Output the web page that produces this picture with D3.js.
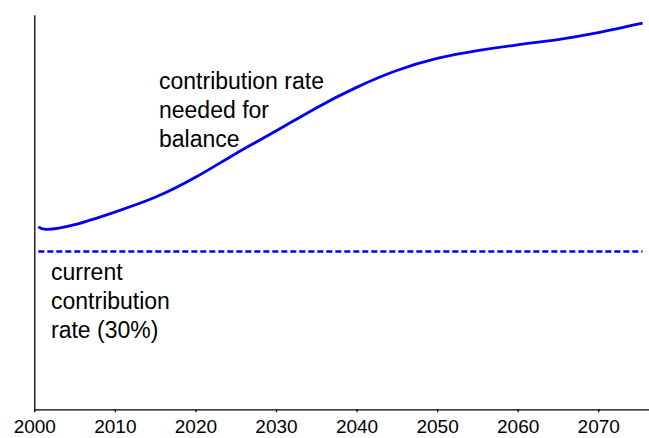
<!DOCTYPE html>
<html>
<head>
<meta charset="utf-8">
<script src="https://cdn.jsdelivr.net/npm/d3@7"></script>
<style>
  body { margin: 0; background: #fff; }
  svg text { font-family: "Liberation Sans", Arial, sans-serif; fill: #000; }
</style>
</head>
<body>
<div id="chart"></div>
<script>
// chart data
const years = [2000.5, 2001.6, 2005, 2010, 2015, 2020, 2025, 2030, 2035, 2040, 2045, 2050, 2055, 2060, 2065, 2070, 2075.5];
const neededRate = [34.7, 34.2, 35.1, 37.5, 40.3, 44.1, 48.6, 52.9, 57.3, 61.2, 64.4, 66.7, 68.2, 69.3, 70.3, 71.6, 73.4];
const currentRate = 30;
const tickYears = [2000, 2010, 2020, 2030, 2040, 2050, 2060, 2070];
const upperLabel = ["contribution rate", "needed for", "balance"];
const lowerLabel = ["current", "contribution", "rate (30%)"];

const width = 649, height = 438;

let x = d3.scaleLinear().domain([2000, 2076.3]).range([34.3, 649]);
let y = d3.scaleLinear().domain([0, 75]).range([409.3, 14.8]);

let svg = d3.select("#chart")
  .append("svg")
  .attr("width", width)
  .attr("height", height);

// x axis
let xAxis = svg.append("g")
  .attr("transform", `translate(0, ${y(0)})`)
  .call(d3.axisBottom(x).tickValues(tickYears).tickFormat(d3.format("d")).tickSize(3).tickSizeOuter(0).tickPadding(7.7));
xAxis.selectAll("text").style("font-size", "19px");
xAxis.selectAll("line, path").attr("stroke", "#000").attr("stroke-width", 1.3);

// y axis, no ticks
let yAxis = svg.append("g")
  .attr("transform", `translate(${x(2000)}, 0)`)
  .call(d3.axisLeft(y).tickValues([]).tickSizeOuter(0));
yAxis.selectAll("path").attr("stroke", "#000").attr("stroke-width", 1.3);

// current rate (dashed)
svg.append("line")
  .attr("x1", x(years[0]))
  .attr("x2", x(years[years.length - 1]))
  .attr("y1", y(currentRate))
  .attr("y2", y(currentRate))
  .attr("stroke", "#0000f0")
  .attr("stroke-width", 2.6)
  .attr("stroke-dasharray", "6,3");

// needed rate
let line = d3.line()
  .x((d, i) => x(years[i]))
  .y(d => y(d))
  .curve(d3.curveNatural);

svg.append("path")
  .datum(neededRate)
  .attr("fill", "none")
  .attr("stroke", "#0000f0")
  .attr("stroke-width", 2.8)
  .attr("d", line);

// annotations
function addLabel(lines, lx, ly) {
  let t = svg.append("text")
    .attr("x", lx)
    .attr("y", ly)
    .style("font-size", "23px");
  t.selectAll("tspan")
    .data(lines)
    .join("tspan")
    .attr("x", lx)
    .attr("dy", (d, i) => i === 0 ? 0 : 29)
    .text(d => d);
}
addLabel(upperLabel, 159, 89);
addLabel(lowerLabel, 51, 280);
</script>
</body>
</html>
